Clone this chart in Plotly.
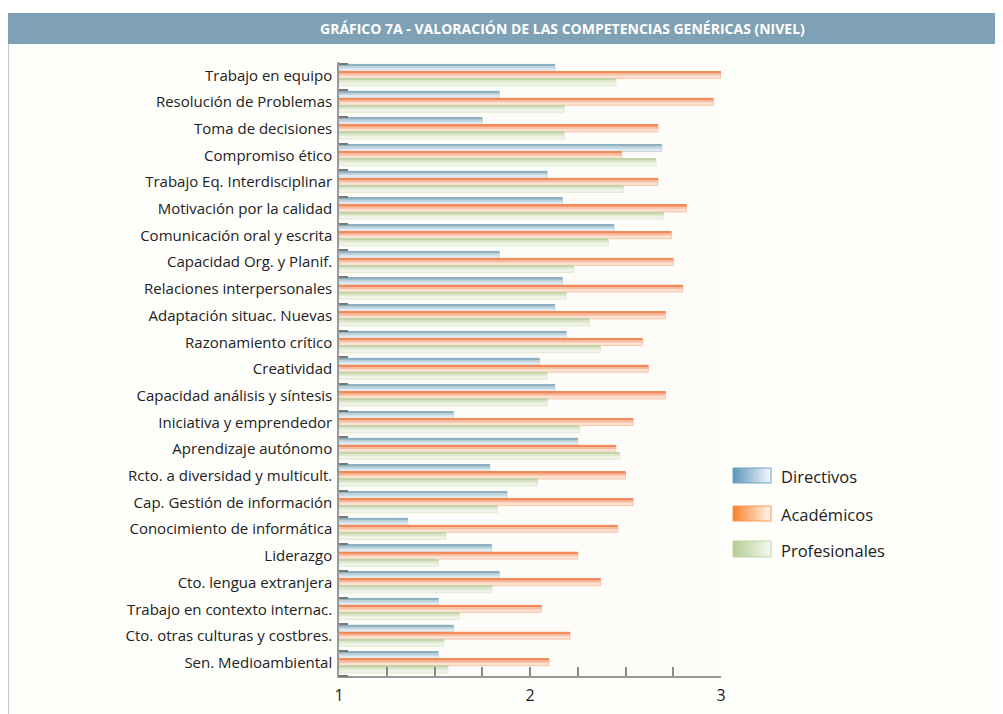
import plotly.graph_objects as go

categories = [
    "Trabajo en equipo", "Resolución de Problemas", "Toma de decisiones",
    "Compromiso ético", "Trabajo Eq. Interdisciplinar", "Motivación por la calidad",
    "Comunicación oral y escrita", "Capacidad Org. y Planif.", "Relaciones interpersonales",
    "Adaptación situac. Nuevas", "Razonamiento crítico", "Creatividad",
    "Capacidad análisis y síntesis", "Iniciativa y emprendedor", "Aprendizaje autónomo",
    "Rcto. a diversidad y multicult.", "Cap. Gestión de información",
    "Conocimiento de informática", "Liderazgo", "Cto. lengua extranjera",
    "Trabajo en contexto internac.", "Cto. otras culturas y costbres.",
    "Sen. Medioambiental",
]
directivos = [2.13, 1.84, 1.75, 2.69, 2.09, 2.17, 2.44, 1.84, 2.17, 2.13, 2.19, 2.05,
              2.13, 1.60, 2.25, 1.79, 1.88, 1.36, 1.80, 1.84, 1.52, 1.60, 1.52]
academicos = [3.00, 2.96, 2.67, 2.48, 2.67, 2.82, 2.74, 2.75, 2.80, 2.71, 2.59, 2.62,
              2.71, 2.54, 2.45, 2.50, 2.54, 2.46, 2.25, 2.37, 2.06, 2.21, 2.10]
profesionales = [2.45, 2.18, 2.18, 2.66, 2.49, 2.70, 2.41, 2.23, 2.19, 2.31, 2.37, 2.09,
                 2.09, 2.26, 2.47, 2.04, 1.83, 1.56, 1.52, 1.80, 1.63, 1.55, 1.57]
series_names = ["Directivos", "Académicos", "Profesionales"]
x_ticks = [1, 1.25, 1.5, 1.75, 2, 2.25, 2.5, 2.75, 3]
x_ticktext = ["1", "", "", "", "2", "", "", "", "3"]

# layout geometry in screen pixels (page body has an 8px margin)
OFF = 8
W, H = 1003 - OFF, 714 - OFF
L, R, T, B = 339 - OFF, 282, 62 - OFF, 38
PW, PH = W - L - R, H - T - B

def px2x(px):
    return (px - OFF - L) / PW

def px2y(py):
    return (H - B - (py - OFF)) / PH

ypos = list(range(len(categories)))
base = 1
series = [directivos, academicos, profesionales]
offsets = [-0.41, -0.145, 0.12]
bw = 0.265
# light, mid, dark colours per series
shades = [
    ("#dfe9ee", "#bcd2dc", "#8fb0c0"),
    ("#fde1d3", "#f8bb9d", "#f08a5b"),
    ("#f0f4e8", "#dde7cd", "#c3d4a8"),
]

fig = go.Figure()
for vals, off, (c1, c2, c3), name in zip(series, offsets, shades, series_names):
    lens = [v - base for v in vals]
    fig.add_trace(go.Bar(
        y=ypos, x=lens, base=base, orientation="h", name=name,
        offset=off, width=bw, marker=dict(color=c1, line=dict(color=c2, width=0.8)),
        showlegend=False,
    ))
    fig.add_trace(go.Bar(
        y=ypos, x=lens, base=base, orientation="h", name=name,
        offset=off, width=bw * 0.55, marker=dict(color=c2, line=dict(width=0)),
        showlegend=False, hoverinfo="skip",
    ))
    fig.add_trace(go.Bar(
        y=ypos, x=lens, base=base, orientation="h", name=name,
        offset=off, width=bw * 0.22, marker=dict(color=c3, line=dict(width=0)),
        showlegend=False, hoverinfo="skip",
    ))

shapes = []
annotations = []
# title bar
shapes.append(dict(type="rect", xref="paper", yref="paper",
                   x0=px2x(7), x1=px2x(1003), y0=px2y(44), y1=px2y(13),
                   fillcolor="#7fa1b5", line=dict(width=0), layer="below"))
# left frame line
shapes.append(dict(type="line", xref="paper", yref="paper",
                   x0=px2x(8.5), x1=px2x(8.5), y0=px2y(44), y1=px2y(714),
                   line=dict(color="#b9cad4", width=1)))
annotations.append(dict(xref="paper", yref="paper", x=px2x(562), y=px2y(28.5),
                        text="<b>GRÁFICO 7A - VALORACIÓN DE LAS COMPETENCIAS GENÉRICAS (NIVEL)</b>",
                        showarrow=False, xanchor="center", yanchor="middle",
                        font=dict(family="Open Sans", size=14, color="white")))

# legend
def hexrgb(h):
    return tuple(int(h[i:i + 2], 16) for i in (1, 3, 5))

def mix(a, b, t):
    a, b = hexrgb(a), hexrgb(b)
    return "rgb(%d,%d,%d)" % tuple(round(a[i] + (b[i] - a[i]) * t) for i in range(3))

leg_dark = ["#5e97bb", "#f7852f", "#b5cd95"]
leg_light = ["#f2f6f9", "#fff4ec", "#f4f7ef"]
leg_border = ["#6ea2c4", "#f89650", "#c0d4a4"]
leg_y = [(468, 483), (506, 521), (541, 557)]
x0, x1 = 733, 771
nstrip = 19
for k in range(3):
    ya, yb = leg_y[k]
    for s in range(nstrip):
        xa = x0 + (x1 - x0) * s / nstrip
        xb = x0 + (x1 - x0) * (s + 1) / nstrip
        shapes.append(dict(type="rect", xref="paper", yref="paper",
                           x0=px2x(xa), x1=px2x(xb + 0.3), y0=px2y(yb), y1=px2y(ya),
                           fillcolor=mix(leg_dark[k], leg_light[k], s / (nstrip - 1)),
                           line=dict(width=0)))
    shapes.append(dict(type="rect", xref="paper", yref="paper",
                       x0=px2x(x0), x1=px2x(x1), y0=px2y(yb), y1=px2y(ya),
                       fillcolor="rgba(0,0,0,0)", line=dict(color=leg_border[k], width=1)))
    annotations.append(dict(xref="paper", yref="paper", x=px2x(779), y=px2y((ya + yb) / 2 + 1),
                            text=series_names[k], showarrow=False,
                            xanchor="left", yanchor="middle",
                            font=dict(family="Open Sans", size=16.5, color="#222222")))

fig.update_layout(
    width=W, height=H,
    margin=dict(l=L, r=R, t=T, b=B, pad=0, autoexpand=False),
    paper_bgcolor="#fefefb",
    plot_bgcolor="#fdfcf8",
    barmode="overlay",
    shapes=shapes,
    annotations=annotations,
    showlegend=False,
    font=dict(family="Open Sans", color="#222222"),
)
fig.update_xaxes(
    range=[1, 3], tickmode="array", tickvals=x_ticks, ticktext=x_ticktext,
    ticks="inside", ticklen=9, tickwidth=1.5, tickcolor="#888888",
    showline=True, linecolor="#999999", linewidth=1.5,
    showgrid=False, zeroline=False, ticklabelstandoff=4, automargin=False,
    tickfont=dict(family="Open Sans", size=16, color="#222222"),
)
fig.update_yaxes(
    range=[len(categories) - 0.5, -0.5], tickmode="array", tickvals=ypos, ticktext=categories,
    ticks="", showline=True, linecolor="#999999", linewidth=1.5,
    showgrid=False, zeroline=False, ticklabelstandoff=2, automargin=False,
    tickfont=dict(family="Open Sans", size=15, color="#222222"),
    minor=dict(tickmode="array", tickvals=[i - 0.44 for i in ypos] + [len(categories) - 0.5],
               ticks="inside", ticklen=9, tickwidth=2, tickcolor="#777777", showgrid=False),
)

fig.write_html("out.html")
